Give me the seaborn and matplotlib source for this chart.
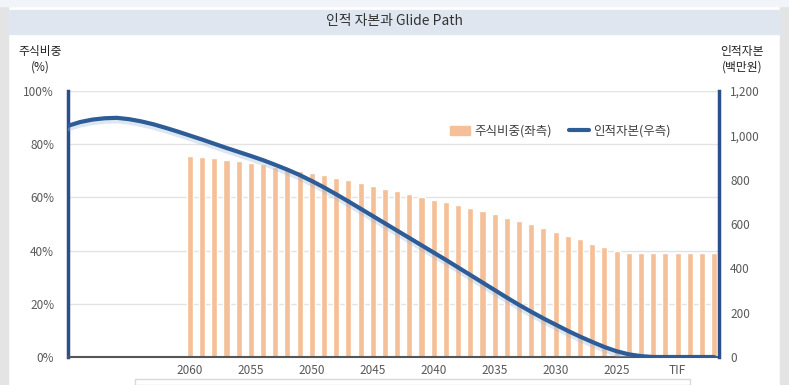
import numpy as np
import pandas as pd
import matplotlib
matplotlib.use("Agg")
import matplotlib.pyplot as plt
import matplotlib.patheffects as pe
from matplotlib.patches import Rectangle, Patch
from matplotlib.lines import Line2D
import seaborn as sns

# 구간 (왼쪽 끝 = 0, 5칸마다 라벨)
period = np.arange(54)
tick_pos = [0, 5, 10, 15, 20, 25, 30, 35, 40, 45, 50]
tick_labels = ["", "", "2060", "2055", "2050", "2045", "2040", "2035", "2030", "2025", "TIF"]

# 주식비중(좌측, %) - 2060 부터
bar_start = 10
equity_share = [75.7, 75.2, 74.7, 74.2, 73.7, 73.1, 72.4, 71.4, 70.7, 70.0,
                69.1, 68.3, 67.4, 66.4, 65.4, 64.4, 63.3, 62.3, 61.4, 60.3,
                59.1, 58.2, 57.0, 55.9, 54.9, 53.6, 52.4, 51.3, 49.9, 48.6,
                47.0, 45.6, 44.2, 42.6, 41.3, 40.0, 39.0, 39.0, 39.0, 39.0,
                39.0, 39.0, 39.0, 39.0]

# 인적자본(우측, 백만원)
human_capital = [1043, 1060, 1071, 1077, 1079, 1073, 1063, 1050, 1034, 1017,
                 999, 981, 962, 943, 925, 907, 888, 867, 845, 821,
                 794, 765, 734, 702, 669, 636, 603, 570, 537, 504,
                 471, 438, 404, 370, 336, 302, 268, 235, 204, 174,
                 146, 118, 92, 68, 45, 26, 12, 4, 0, 0,
                 0, 0, 0, 0]

bar_df = pd.DataFrame({"period": period[bar_start:], "share": equity_share})
line_df = pd.DataFrame({"period": period, "capital": human_capital})

sns.set_style("white")
plt.rcParams["font.family"] = ["Noto Sans CJK KR", "DejaVu Sans"]

bar_color = "#f5bf97"
line_color = "#2d5c97"
spine_blue = "#2b4f8d"
txt = "#595959"

fig = plt.figure(figsize=(7.89, 3.85), dpi=100)
fig.patch.set_facecolor("white")

# 바깥 프레임 / 제목 띠
fig.patches.append(Rectangle((0, 0), 8 / 789, 1, transform=fig.transFigure,
                             color="#e4e4e4", zorder=0))
fig.patches.append(Rectangle((780 / 789, 0), 9 / 789, 1, transform=fig.transFigure,
                             color="#e4e4e4", zorder=0))
fig.patches.append(Rectangle((0, 1 - 6 / 385), 1, 6 / 385, transform=fig.transFigure,
                             color="#f1f4f8", zorder=0))
fig.patches.append(Rectangle((8 / 789, 1 - 34 / 385), 772 / 789, 24 / 385,
                             transform=fig.transFigure, color="#dfe6f0", zorder=0))
fig.patches.append(Rectangle((135 / 789, 0), 555 / 789, 6 / 385, transform=fig.transFigure,
                             facecolor="white", edgecolor="#d9d9d9", lw=1, zorder=0))
fig.text(0.5, 1 - 21 / 385, "인적 자본과 Glide Path", ha="center", va="center",
         fontsize=10, color="#333333")

ax = fig.add_axes([68 / 789, 28 / 385, 651 / 789, 266 / 385])
sns.barplot(data=bar_df, x="period", y="share", native_scale=True, width=0.5,
            color=bar_color, saturation=1, ax=ax, zorder=2)
ax.set_xlim(0, 53.4)
ax.set_ylim(0, 100)
ax.set_yticks([0, 20, 40, 60, 80, 100])
ax.set_yticklabels([f"{v}%" for v in [0, 20, 40, 60, 80, 100]])
ax.set_xticks(tick_pos)
ax.set_xticklabels(tick_labels)
ax.set_xlabel("")
ax.set_ylabel("")
ax.grid(axis="y", color="#e3e3e3", lw=1)
ax.set_axisbelow(True)
ax.tick_params(axis="x", direction="out", length=4, width=1.2, colors="#555555",
               labelsize=8.5, labelcolor=txt, pad=1)
ax.tick_params(axis="y", length=0, labelsize=8.5, labelcolor=txt, pad=10)
for s in ["top", "right"]:
    ax.spines[s].set_visible(False)
ax.spines["left"].set_color(spine_blue)
ax.spines["left"].set_linewidth(2.5)
ax.spines["bottom"].set_color("#555555")
ax.spines["bottom"].set_linewidth(1.5)

ax2 = ax.twinx()
sns.lineplot(data=line_df, x="period", y="capital", color=line_color, lw=3, ax=ax2,
             path_effects=[pe.SimpleLineShadow(offset=(0, -1.5), shadow_color="#9fbbdc",
                                               alpha=0.35, linewidth=5),
                           pe.Normal()])
ax2.set_ylim(0, 1200)
ax2.set_yticks([0, 200, 400, 600, 800, 1000, 1200])
ax2.set_yticklabels(["0", "200", "400", "600", "800", "1,000", "1,200"])
ax2.set_ylabel("")
ax2.tick_params(axis="y", length=0, labelsize=8.5, labelcolor=txt, pad=8)
for s in ["top", "left", "bottom"]:
    ax2.spines[s].set_visible(False)
ax2.spines["right"].set_color(spine_blue)
ax2.spines["right"].set_linewidth(2.5)
ax2.set_xlim(0, 53.4)

fig.text(40 / 789, 1 - 59 / 385, "주식비중\n(%)", ha="center", va="center",
         fontsize=8.5, color="#222222", linespacing=1.3)
fig.text(742 / 789, 1 - 59 / 385, "인적자본\n(백만원)", ha="center", va="center",
         fontsize=8.5, color="#222222", linespacing=1.3)

handles = [Patch(color=bar_color),
           Line2D([0], [0], color=line_color, lw=3)]
ax2.legend(handles, ["주식비중(좌측)", "인적자본(우측)"], loc="upper left",
           bbox_to_anchor=(0.57, 0.915), ncol=2, frameon=False, fontsize=9,
           handlelength=1.6, handletextpad=0.3, columnspacing=1.4,
           labelcolor="#404040")

fig.savefig("out.png", dpi=100)
